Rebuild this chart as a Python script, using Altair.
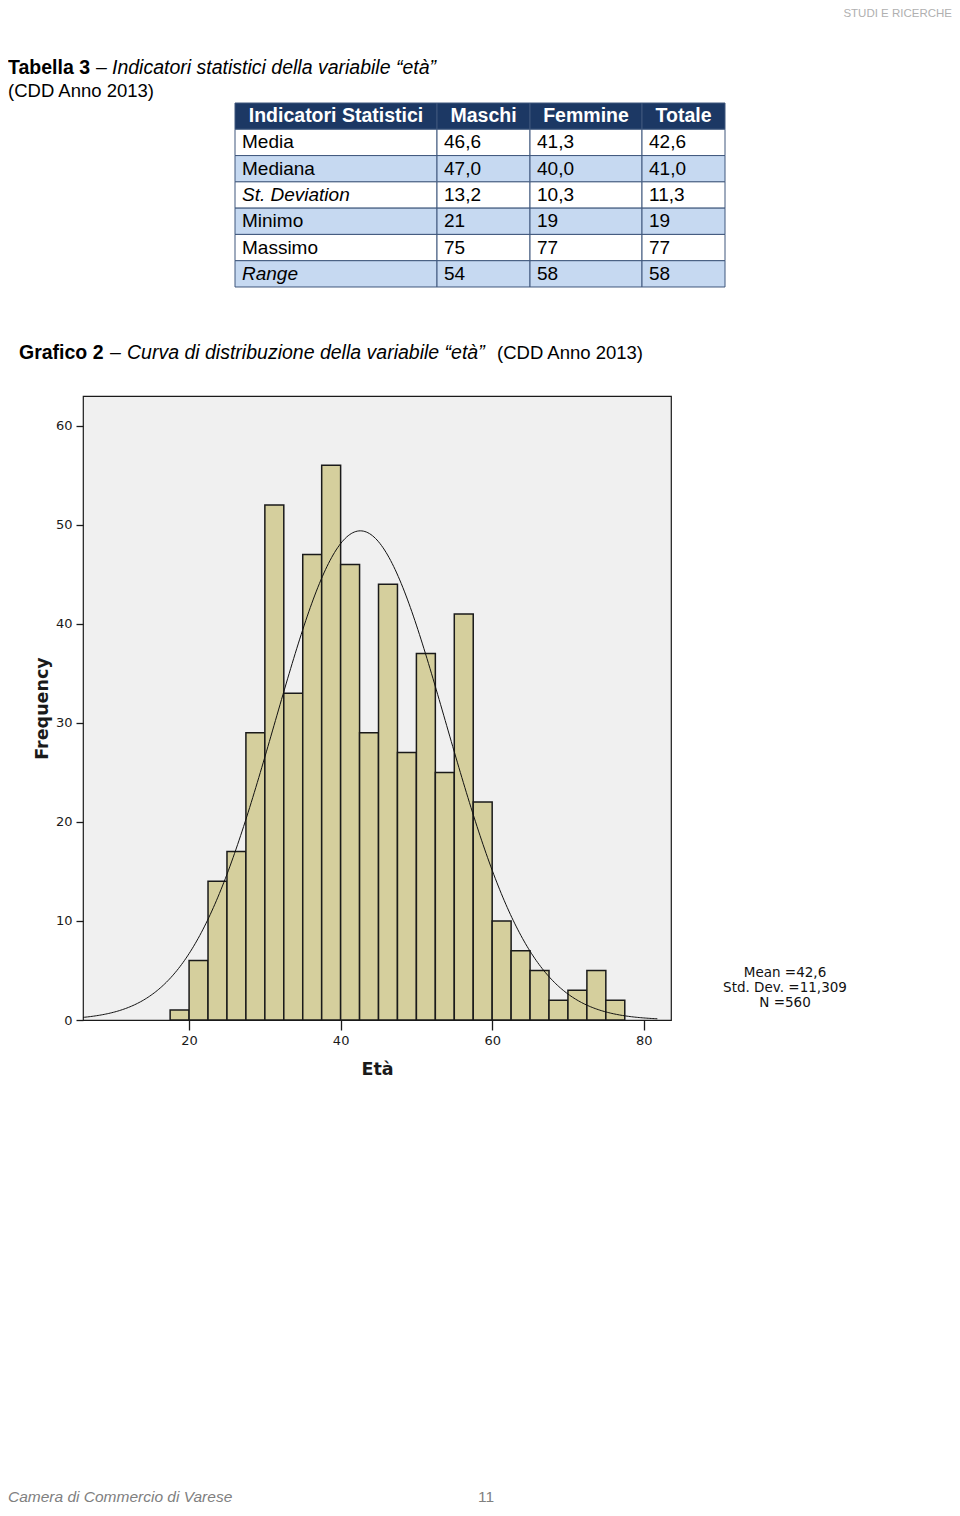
import altair as alt
import pandas as pd

# ---------------- text content ----------------
HEADER_TEXT = "STUDI E RICERCHE"
TABLE_TITLE_BOLD = "Tabella 3"
TITLE_DASH = "–"
TABLE_TITLE_ITALIC = "Indicatori statistici della variabile “età”"
TABLE_SUBTITLE = "(CDD Anno 2013)"
CHART_TITLE_BOLD = "Grafico 2"
CHART_TITLE_ITALIC = "Curva di distribuzione della variabile “età”"
CHART_TITLE_TAIL = "(CDD Anno 2013)"
FOOTER_LEFT = "Camera di Commercio di Varese"
FOOTER_PAGE = "11"

# ---------------- table data ----------------
TABLE_HEADERS = ["Indicatori Statistici", "Maschi", "Femmine", "Totale"]
ROW_LABELS = ["Media", "Mediana", "St. Deviation", "Minimo", "Massimo", "Range"]
MASCHI = ["46,6", "47,0", "13,2", "21", "75", "54"]
FEMMINE = ["41,3", "40,0", "10,3", "19", "77", "58"]
TOTALE = ["42,6", "41,0", "11,3", "19", "77", "58"]
ITALIC_LABELS = ["St. Deviation", "Range"]

# ---------------- histogram data ----------------
BIN_STARTS = [17.5, 20, 22.5, 25, 27.5, 30, 32.5, 35, 37.5, 40, 42.5, 45,
              47.5, 50, 52.5, 55, 57.5, 60, 62.5, 65, 67.5, 70, 72.5, 75]
COUNTS = [1, 6, 14, 17, 29, 52, 33, 47, 56, 46, 29, 44,
          27, 37, 25, 41, 22, 10, 7, 5, 2, 3, 5, 2]
BIN_WIDTH = 2.5
MEAN = 42.6
STD_DEV = 11.309
N_OBS = 560
STATS_LINES = ["Mean =42,6", "Std. Dev. =11,309", "N =560"]
X_TICKS = [20, 40, 60, 80]
Y_TICKS = [0, 10, 20, 30, 40, 50, 60]
X_TITLE = "Età"
Y_TITLE = "Frequency"

# ---------------- layout (plot area = histogram box) ----------------
PLOT_W, PLOT_H = 588, 624
PAD = {"left": 75, "top": 388, "right": 944 - 75 - PLOT_W, "bottom": 1500 - 388 - PLOT_H}

X_SCALE = alt.Scale(domain=[6.0, 83.6], nice=False, zero=False)
Y_SCALE = alt.Scale(domain=[0, 63.0], nice=False, zero=True)

x_axis = alt.Axis(values=X_TICKS, grid=False, domain=False, tickSize=10, tickWidth=1.3,
                  tickColor="#1a1a1a", labelFont="DejaVu Sans", labelFontSize=13,
                  labelColor="#1a1a1a", labelPadding=4, title=X_TITLE,
                  titleFont="DejaVu Sans", titleFontSize=17.5, titleFontWeight="bold",
                  titleColor="#1a1a1a", titlePadding=13)
y_axis = alt.Axis(values=Y_TICKS, grid=False, domain=False, tickSize=7, tickWidth=1.3,
                  tickColor="#1a1a1a", labelFont="DejaVu Sans", labelFontSize=13,
                  labelColor="#1a1a1a", labelPadding=4, title=Y_TITLE,
                  titleFont="DejaVu Sans", titleFontSize=17.5, titleFontWeight="bold",
                  titleColor="#1a1a1a", titlePadding=4)

bins_df = pd.DataFrame({"start": BIN_STARTS, "count": COUNTS})

bars = alt.Chart(bins_df).transform_calculate(
    end=f"datum.start + {BIN_WIDTH}", zero="0"
).mark_rect(fill="#d5cf9d", stroke="#1a1a1a", strokeWidth=1.5).encode(
    x=alt.X("start:Q", scale=X_SCALE, axis=x_axis),
    x2="end:Q",
    y=alt.Y("count:Q", scale=Y_SCALE, axis=y_axis),
    y2="zero:Q",
)

curve = alt.Chart(alt.sequence(6.0, 82.0, 0.2, as_="x")).transform_calculate(
    y=f"{N_OBS} * {BIN_WIDTH} * densityNormal(datum.x, {MEAN}, {STD_DEV})"
).mark_line(color="#111111", strokeWidth=1).encode(
    x=alt.X("x:Q", scale=X_SCALE, axis=x_axis),
    y=alt.Y("y:Q", scale=Y_SCALE, axis=y_axis),
)

hist = alt.layer(bars, curve)

# ---------------- table ----------------
cells = []
for c, h in enumerate(TABLE_HEADERS):
    cells.append({"row": 0, "col": c, "text": h, "kind": "header", "italic": False})
for r, (lab, m, f, t) in enumerate(zip(ROW_LABELS, MASCHI, FEMMINE, TOTALE), start=1):
    kind = "blue" if r % 2 == 0 else "white"
    for c, v in enumerate([lab, m, f, t]):
        cells.append({"row": r, "col": c, "text": v, "kind": kind,
                      "italic": bool(c == 0 and lab in ITALIC_LABELS)})
table_df = pd.DataFrame(cells)

TX = alt.Scale(domain=[0, 1, 2, 3, 4], range=[152, 354, 447, 559, 642], nice=False, zero=False)
TY = alt.Scale(domain=[0, 7], range=[-293, -109], nice=False, zero=False)

tbase = alt.Chart(table_df).transform_calculate(
    c1="datum.col + 1", r1="datum.row + 1", cm="datum.col + 0.5", rm="datum.row + 0.5"
)

table_rect = tbase.mark_rect(stroke="#3f577c", strokeWidth=1).encode(
    x=alt.X("col:Q", scale=TX, axis=None),
    x2="c1:Q",
    y=alt.Y("row:Q", scale=TY, axis=None),
    y2="r1:Q",
    fill=alt.Fill("kind:N", scale=alt.Scale(domain=["header", "blue", "white"],
                                             range=["#1c3864", "#c6d9f1", "#ffffff"]),
                  legend=None),
)

table_head = tbase.transform_filter("datum.kind == 'header'").mark_text(
    align="center", baseline="middle", font="Liberation Sans", fontSize=19.5,
    fontWeight="bold", color="#ffffff"
).encode(
    x=alt.X("cm:Q", scale=TX, axis=None),
    y=alt.Y("rm:Q", scale=TY, axis=None),
    text="text:N",
)

table_body = tbase.transform_filter("datum.row > 0 && !datum.italic").mark_text(
    align="left", baseline="middle", font="Liberation Sans", fontSize=19, dx=7,
    color="#000000"
).encode(
    x=alt.X("col:Q", scale=TX, axis=None),
    y=alt.Y("rm:Q", scale=TY, axis=None),
    text="text:N",
)

table_italic = tbase.transform_filter("datum.italic").mark_text(
    align="left", baseline="middle", font="Liberation Sans", fontSize=19, dx=7,
    fontStyle="italic", color="#000000"
).encode(
    x=alt.X("col:Q", scale=TX, axis=None),
    y=alt.Y("rm:Q", scale=TY, axis=None),
    text="text:N",
)


# ---------------- free text ----------------
def label(text, x, y, **kw):
    props = dict(align="left", baseline="middle", font="Liberation Sans", color="#000000")
    props.update(kw)
    return alt.Chart(alt.Data(values=[{"t": text}])).mark_text(**props).encode(
        text="t:N", x=alt.value(x), y=alt.value(y)
    )


texts = [
    label(HEADER_TEXT, 869, -382, align="right", fontSize=11.5, color="#b0b0b0"),
    label(TABLE_TITLE_BOLD, -75, -328, fontSize=19.5, fontWeight="bold"),
    label(TITLE_DASH, 13, -328, fontSize=19.5),
    label(TABLE_TITLE_ITALIC, 29, -328, fontSize=19.5, fontStyle="italic"),
    label(TABLE_SUBTITLE, -75, -305, fontSize=18.5),
    label(CHART_TITLE_BOLD, -64, -43, fontSize=19.5, fontWeight="bold"),
    label(TITLE_DASH, 27, -43, fontSize=19.5),
    label(CHART_TITLE_ITALIC, 44, -43, fontSize=19.5, fontStyle="italic"),
    label(CHART_TITLE_TAIL, 414, -43, fontSize=18.5),
    label(STATS_LINES[0], 702, 577, align="center", font="DejaVu Sans", fontSize=13.5, color="#111111"),
    label(STATS_LINES[1], 702, 592, align="center", font="DejaVu Sans", fontSize=13.5, color="#111111"),
    label(STATS_LINES[2], 702, 607, align="center", font="DejaVu Sans", fontSize=13.5, color="#111111"),
    label(FOOTER_LEFT, -75, 1101, fontSize=15.5, fontStyle="italic", color="#808080"),
    label(FOOTER_PAGE, 403, 1101, align="center", fontSize=15.5, color="#808080"),
]

chart = alt.layer(
    hist, table_rect, table_head, table_body, table_italic, *texts
).resolve_scale(
    x="independent", y="independent", fill="independent"
).properties(
    width=PLOT_W, height=PLOT_H, padding=PAD,
    autosize=alt.AutoSizeParams(type="none"), background="white"
).configure_view(
    fill="#f0f0f0", stroke="#1a1a1a", strokeWidth=1.2
)

chart.save("out.html", embed_options={"renderer": "svg", "actions": False})
